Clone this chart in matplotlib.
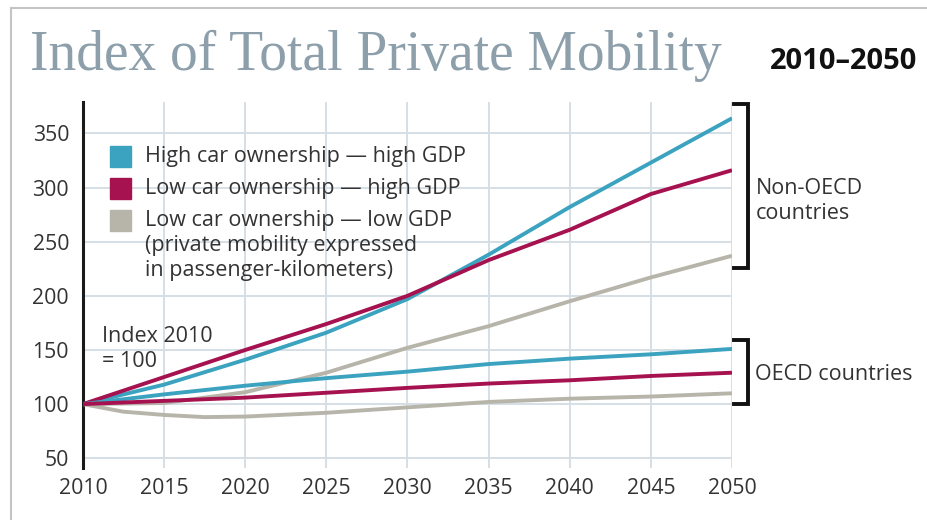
import matplotlib
matplotlib.use("Agg")
import matplotlib.pyplot as plt
from matplotlib.patches import Rectangle
from matplotlib.lines import Line2D

# data: index of total private mobility (2010 = 100)
years = [2010, 2015, 2020, 2025, 2030, 2035, 2040, 2045, 2050]
years_dip = [2010, 2012.5, 2015, 2017.5, 2020, 2025, 2030, 2035, 2040, 2045, 2050]

non_oecd_high_high = [100, 118, 141, 166, 197, 238, 282, 323, 364]
non_oecd_low_high = [100, 125, 150, 174, 200, 233, 261, 294, 316]
non_oecd_low_low = [100, 101, 111, 129, 152, 172, 195, 217, 237]

oecd_high_high = [100, 109, 117, 124, 130, 137, 142, 146, 151]
oecd_low_high = [100, 103, 106, 110.5, 115, 119, 122, 126, 129]
oecd_low_low = [100, 93, 90, 88, 88.5, 92, 97, 102, 105, 107, 110]

series_labels = ["High car ownership \u2014 high GDP",
                 "Low car ownership \u2014 high GDP",
                 "Low car ownership \u2014 low GDP\n(private mobility expressed\nin passenger-kilometers)"]
series_colors = ["#3ba3bf", "#a5124f", "#b7b5aa"]

yticks = [50, 100, 150, 200, 250, 300, 350]
xticks = [2010, 2015, 2020, 2025, 2030, 2035, 2040, 2045, 2050]

plt.rcParams['font.family'] = ['Open Sans', 'DejaVu Sans']
txt_size = 15.5
txt_col = "#333333"

fig = plt.figure(figsize=(9.27, 5.2), dpi=100)
ax = fig.add_axes([0.0895, 0.1, 0.7001, 0.7038])

# thin gray frame along top and left
fig.add_artist(Line2D([0.012, 1.0], [0.985, 0.985], transform=fig.transFigure,
                      color="#c4c4c4", lw=1.5))
fig.add_artist(Line2D([0.012, 0.012], [0.0, 0.985], transform=fig.transFigure,
                      color="#c4c4c4", lw=1.5))

lw = 2.8
ax.plot(years, non_oecd_high_high, color=series_colors[0], lw=lw, solid_capstyle="butt", zorder=4)
ax.plot(years, non_oecd_low_high, color=series_colors[1], lw=lw, solid_capstyle="butt", zorder=4)
ax.plot(years, non_oecd_low_low, color=series_colors[2], lw=lw, solid_capstyle="butt", zorder=3)
ax.plot(years, oecd_high_high, color=series_colors[0], lw=lw, solid_capstyle="butt", zorder=4)
ax.plot(years, oecd_low_high, color=series_colors[1], lw=lw, solid_capstyle="butt", zorder=4)
ax.plot(years_dip, oecd_low_low, color=series_colors[2], lw=lw, solid_capstyle="butt", zorder=3)

ax.set_xlim(2010, 2050)
ax.set_ylim(41, 379)
ax.set_xticks(xticks)
ax.set_yticks(yticks)
ax.tick_params(axis="both", length=0, labelsize=15.3, colors=txt_col)
ax.tick_params(axis="y", pad=10)
ax.tick_params(axis="x", pad=7)
ax.grid(True, color="#d5dfe6", lw=1.4)
ax.set_axisbelow(True)
for side in ["top", "right", "bottom"]:
    ax.spines[side].set_visible(False)
ax.spines["left"].set_linewidth(2.2)
ax.spines["left"].set_color("#1a1a1a")

# legend drawn by hand
sq_y = [0.8224, 0.735, 0.6475]
for col, lab, y in zip(series_colors, series_labels, sq_y):
    ax.add_patch(Rectangle((0.0416, y), 0.0324, 0.0574, transform=ax.transAxes,
                           color=col, zorder=5))
    ax.text(0.0955, y + 0.0574 + 0.0, lab, transform=ax.transAxes, fontsize=txt_size,
            color=txt_col, va="top", ha="left", linespacing=1.26, zorder=5)

ax.text(2011.2, 172.5, "Index 2010\n= 100", fontsize=txt_size, color=txt_col,
        va="top", ha="left", linespacing=1.26)

# group brackets on the right
for top, bot in [(376.8, 225.3), (158.9, 99.8)]:
    ax.plot([2050.1, 2051.0, 2051.0, 2050.1], [top, top, bot, bot], color="#111111",
            lw=2.8, clip_on=False, solid_joinstyle="miter")
ax.text(2051.45, 287.5, "Non-OECD\ncountries", fontsize=txt_size, color=txt_col,
        va="center", ha="left", linespacing=1.26)
ax.text(2051.45, 127.5, "OECD countries", fontsize=txt_size, color=txt_col,
        va="center", ha="left")

fig.text(0.032, 0.865, "Index of Total Private Mobility", family="Liberation Serif",
         fontsize=40, color="#8c9fab", ha="left", va="baseline")
fig.text(0.99, 0.868, "2010\u20132050", fontsize=21, fontweight="bold",
         color="#111111", ha="right", va="baseline")

fig.savefig("out.png", dpi=100)
